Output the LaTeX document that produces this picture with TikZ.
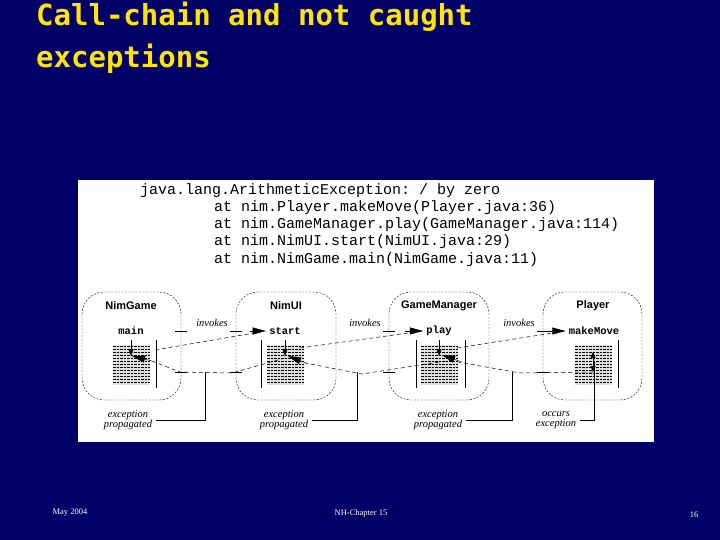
\documentclass[tikz,border=0pt]{standalone}
\usepackage{fontspec}
\setmainfont{Liberation Serif}
\setsansfont{Liberation Sans}
\setmonofont{Liberation Mono}
\newfontfamily\titlefont{DejaVu Sans Mono}
\usetikzlibrary{arrows.meta}
\definecolor{navy}{RGB}{0,0,102}
\definecolor{ttl}{RGB}{255,230,0}
\tikzset{
 mod/.style={draw,dashed,dash pattern=on 2pt off 1.5pt,rounded corners=22pt,line width=0.4pt},
 mname/.style={font=\sffamily\bfseries\fontsize{11}{12}\selectfont},
 meth/.style={font=\ttfamily\bfseries\fontsize{10.5}{12}\selectfont},
 lbl/.style={font=\itshape\fontsize{10.5}{10}\selectfont,align=center},
 dl/.style={dashed,dash pattern=on 4pt off 3pt,line width=0.5pt},
 big/.style={-{Triangle[length=13pt,width=7pt]}},
 sm/.style={-{Triangle[length=7pt,width=5pt]}},
 code/.style={font=\ttfamily\fontsize{15}{17}\selectfont,anchor=west,inner sep=0pt},
 foot/.style={text=white,font=\fontsize{8.5}{9}\selectfont}
}
\newcommand{\tex}[2]{%
 \fill[gray!25] (#1,#2) rectangle ++(37,40);
 \foreach \k in {0,...,12} {\draw[dashed,dash pattern=on 2.5pt off 1pt,line width=0.45pt] (#1,#2+1.5+3*\k) -- ++(37,0);}}
\begin{document}
\begin{tikzpicture}[x=1pt,y=-1pt]
\fill[navy] (0,0) rectangle (720,540);
\useasboundingbox (0,0) rectangle (720,540);
\node[anchor=west,text=ttl,font=\titlefont\bfseries\fontsize{29}{42}\selectfont,align=left,inner sep=0pt] (title) at (36,38) {Call-chain and not caught\\exceptions};
\fill[white] (78,180) rectangle (654,442);
\node[code] (c1) at (140,191) {java.lang.ArithmeticException: / by zero};
\node[code] (c2) at (214,208) {at nim.Player.makeMove(Player.java:36)};
\node[code] (c3) at (214,225) {at nim.GameManager.play(GameManager.java:114)};
\node[code] (c4) at (214,242) {at nim.NimUI.start(NimUI.java:29)};
\node[code] (c5) at (214,260) {at nim.NimGame.main(NimGame.java:11)};
% modules
\draw[mod] (82,292) rectangle (181,400);
\draw[mod] (236,292) rectangle (336,400);
\draw[mod] (389,292) rectangle (489,400);
\draw[mod] (543,292) rectangle (642,400);
\node[mname] (n1) at (131,306) {NimGame};
\node[mname] (n2) at (286,306) {NimUI};
\node[mname] (n3) at (439,306) {GameManager};
\node[mname] (n4) at (593,306) {Player};
\node[meth] (m1) at (131,331) {main};
\node[meth] (m2) at (285,331) {start};
\node[meth] (m3) at (439,331) {play};
\node[meth] (m4) at (594,331) {makeMove};
\tex{113}{345}\tex{267}{345}\tex{421}{345}\tex{575}{345}
% vertical bars
\draw (156,340) -- (156,388);
\draw (261,340) -- (261,388);
\draw (416,340) -- (416,388);
\draw (465,340) -- (465,388);
\draw (618,340) -- (618,388);
% ticks on borders
\foreach \x in {181,236,389,543} {\draw (\x-6,331) -- (\x+6,331); \draw (\x-6,372) -- (\x+6,372);}
% invokes
\coordinate (s1) at (155,350); \coordinate (s2) at (300,348); \coordinate (s3) at (457,348);
\draw[dl] (s1) -- (m2.west); \draw[big] (250,331) -- (m2.west);
\draw[dl] (s2) -- (m3.west); \draw[big] (405,331) -- (m3.west);
\draw[dl] (s3) -- (m4.west); \draw[big] (548,331) -- (m4.west);
\draw[sm] (131,340) -- (131,356);
\draw[sm] (285,340) -- (285,356);
\draw[sm] (439,340) -- (439,356);
\node[lbl] (i1) at (212,323) {invokes};
\node[lbl] (i2) at (365,323) {invokes};
\node[lbl] (i3) at (519,323) {invokes};
% propagation
\coordinate (p4) at (593,372);
\draw[dl] (p4) -- (520,373) -- (458,362);
\draw[big] (462,362) -- (442,355);
\draw[dl] (453,360) -- (362,374) -- (305,363);
\draw[big] (306,363) -- (288,356);
\draw[dl] (285,358) -- (232,373) -- (180,372) -- (152,361);
\draw[big] (152,361) -- (132,356);
\draw[{Triangle[length=6pt,width=5pt]}-{Triangle[length=6pt,width=5pt]}] (593,352) -- (593,372);
% callouts
\node[lbl] (e1) at (128,420) {exception\\propagated};
\node[lbl] (e2) at (284,420) {exception\\propagated};
\node[lbl] (e3) at (438,420) {exception\\propagated};
\node[lbl] (e4) at (556,420) {occurs\\exception};
\draw (e1.east) -| (205,372);
\draw (e2.east) -| (357,372);
\draw (e3.east) -| (512,372);
\draw (e4.east) -| (594,362);
% footer
\node[foot] (f1) at (70,513) {May 2004};
\node[foot] (f2) at (361,513) {NH-Chapter 15};
\node[foot] (f3) at (694,515) {16};
\end{tikzpicture}
\end{document}
